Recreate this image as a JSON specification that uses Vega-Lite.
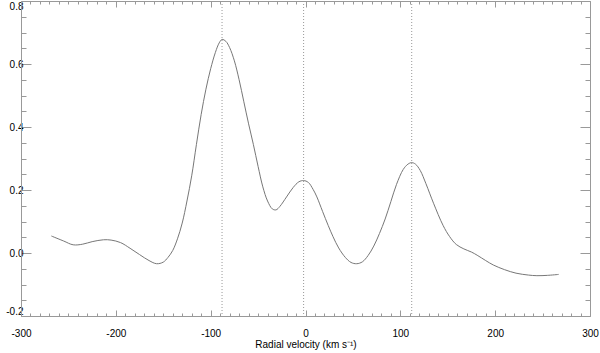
{
  "$schema": "https://vega.github.io/schema/vega-lite/v6.json",
  "width": 569,
  "height": 315,
  "autosize": "none",
  "padding": {"left": 21, "top": 1, "right": 10, "bottom": 37},
  "background": "white",
  "config": {
    "view": {"stroke": null},
    "axis": {"labelFont": "Liberation Sans", "titleFont": "Liberation Sans", "labelFontSize": 10, "titleFontSize": 10, "titleFontWeight": "normal", "labelColor": "#000", "titleColor": "#000", "domainColor": "#999", "tickColor": "#999", "grid": false, "domainWidth": 1, "tickWidth": 1}
  },
  "datasets": {
    "profile": [
      {"v": -268, "f": 0.054}, {"v": -255, "f": 0.038}, {"v": -245, "f": 0.026}, {"v": -235, "f": 0.028},
      {"v": -225, "f": 0.036}, {"v": -213, "f": 0.042}, {"v": -205, "f": 0.041}, {"v": -195, "f": 0.033},
      {"v": -185, "f": 0.015}, {"v": -175, "f": -0.005}, {"v": -165, "f": -0.024}, {"v": -157, "f": -0.034},
      {"v": -150, "f": -0.029}, {"v": -145, "f": -0.014}, {"v": -140, "f": 0.008}, {"v": -135, "f": 0.045},
      {"v": -130, "f": 0.095}, {"v": -125, "f": 0.165}, {"v": -120, "f": 0.245}, {"v": -115, "f": 0.345},
      {"v": -110, "f": 0.44}, {"v": -105, "f": 0.52}, {"v": -100, "f": 0.585}, {"v": -95, "f": 0.637},
      {"v": -91, "f": 0.667}, {"v": -88, "f": 0.678}, {"v": -84, "f": 0.672}, {"v": -80, "f": 0.652},
      {"v": -75, "f": 0.61}, {"v": -70, "f": 0.55}, {"v": -65, "f": 0.48}, {"v": -60, "f": 0.41},
      {"v": -55, "f": 0.345}, {"v": -50, "f": 0.275}, {"v": -45, "f": 0.21}, {"v": -40, "f": 0.165},
      {"v": -35, "f": 0.14}, {"v": -31, "f": 0.137}, {"v": -27, "f": 0.148}, {"v": -20, "f": 0.178},
      {"v": -13, "f": 0.208}, {"v": -7, "f": 0.226}, {"v": -2, "f": 0.23}, {"v": 3, "f": 0.224},
      {"v": 8, "f": 0.202}, {"v": 12, "f": 0.178}, {"v": 18, "f": 0.132}, {"v": 24, "f": 0.087},
      {"v": 29, "f": 0.052}, {"v": 35, "f": 0.016}, {"v": 42, "f": -0.014}, {"v": 48, "f": -0.03},
      {"v": 54, "f": -0.034}, {"v": 60, "f": -0.028}, {"v": 66, "f": -0.008}, {"v": 72, "f": 0.022},
      {"v": 78, "f": 0.062}, {"v": 84, "f": 0.108}, {"v": 90, "f": 0.163}, {"v": 96, "f": 0.218},
      {"v": 103, "f": 0.265}, {"v": 108, "f": 0.282}, {"v": 112, "f": 0.287}, {"v": 116, "f": 0.282},
      {"v": 121, "f": 0.262}, {"v": 127, "f": 0.22}, {"v": 135, "f": 0.158}, {"v": 145, "f": 0.088},
      {"v": 152, "f": 0.052}, {"v": 159, "f": 0.027}, {"v": 167, "f": 0.013}, {"v": 175, "f": 0.003},
      {"v": 181, "f": -0.007}, {"v": 190, "f": -0.024}, {"v": 198, "f": -0.038}, {"v": 210, "f": -0.053},
      {"v": 222, "f": -0.064}, {"v": 235, "f": -0.07}, {"v": 244, "f": -0.072}, {"v": 255, "f": -0.071},
      {"v": 267, "f": -0.068}
    ],
    "lines": [{"v": -88}, {"v": -2}, {"v": 112}]
  },
  "layer": [
    {
      "data": {"name": "lines"},
      "mark": {"type": "rule", "color": "#999", "strokeWidth": 1, "strokeDash": [1, 2]},
      "encoding": {
        "x": {"field": "v", "type": "quantitative", "scale": {"domain": [-300, 300], "nice": false, "zero": false}, "axis": null}
      }
    },
    {
      "data": {"name": "profile"},
      "mark": {"type": "line", "color": "#777", "strokeWidth": 1, "interpolate": "catmull-rom"},
      "encoding": {
        "x": {"field": "v", "type": "quantitative", "scale": {"domain": [-300, 300], "nice": false, "zero": false},
          "axis": {"orient": "bottom", "title": "Radial velocity (km s⁻¹)", "titlePadding": -2,
            "values": [-300,-290,-280,-270,-260,-250,-240,-230,-220,-210,-200,-190,-180,-170,-160,-150,-140,-130,-120,-110,-100,-90,-80,-70,-60,-50,-40,-30,-20,-10,0,10,20,30,40,50,60,70,80,90,100,110,120,130,140,150,160,170,180,190,200,210,220,230,240,250,260,270,280,290,300],
            "labelExpr": "datum.value % 100 === 0 ? (datum.value < 0 ? '-' : '') + format(abs(datum.value), 'd') : ''",
            "tickSize": {"condition": {"test": "datum.value % 100 === 0", "value": -6}, "value": -3},
            "labelPadding": 18, "labelFlush": false, "labelOverlap": false}},
        "y": {"field": "f", "type": "quantitative", "scale": {"domain": [-0.2, 0.8], "nice": false, "zero": false},
          "axis": {"orient": "left", "title": null,
            "values": [-0.2,-0.15,-0.1,-0.05,0,0.05,0.1,0.15,0.2,0.25,0.3,0.35,0.4,0.45,0.5,0.55,0.6,0.65,0.7,0.75,0.8],
            "labelExpr": "abs(datum.value*5 - round(datum.value*5)) < 0.001 ? (datum.value < 0 ? '-' : '') + format(abs(datum.value), '.1f') : ''",
            "tickSize": {"condition": {"test": "abs(datum.value*5 - round(datum.value*5)) < 0.001", "value": -10}, "value": -5},
            "labelPadding": 8, "labelFlush": true, "labelFlushOffset": 0, "labelOverlap": false}}
      }
    },
    {
      "data": {"name": "profile"},
      "mark": {"type": "line", "opacity": 0},
      "encoding": {
        "x": {"field": "v", "type": "quantitative", "scale": {"domain": [-300, 300], "nice": false, "zero": false},
          "axis": {"orient": "top", "title": null, "labels": false,
            "values": [-300,-290,-280,-270,-260,-250,-240,-230,-220,-210,-200,-190,-180,-170,-160,-150,-140,-130,-120,-110,-100,-90,-80,-70,-60,-50,-40,-30,-20,-10,0,10,20,30,40,50,60,70,80,90,100,110,120,130,140,150,160,170,180,190,200,210,220,230,240,250,260,270,280,290,300],
            "tickSize": {"condition": {"test": "datum.value % 100 === 0", "value": -6}, "value": -3}}},
        "y": {"field": "f", "type": "quantitative", "scale": {"domain": [-0.2, 0.8], "nice": false, "zero": false},
          "axis": {"orient": "right", "title": null, "labels": false,
            "values": [-0.2,-0.15,-0.1,-0.05,0,0.05,0.1,0.15,0.2,0.25,0.3,0.35,0.4,0.45,0.5,0.55,0.6,0.65,0.7,0.75,0.8],
            "tickSize": {"condition": {"test": "abs(datum.value*5 - round(datum.value*5)) < 0.001", "value": -10}, "value": -5}}}
      }
    }
  ],
  "resolve": {"axis": {"x": "independent", "y": "independent"}}
}
